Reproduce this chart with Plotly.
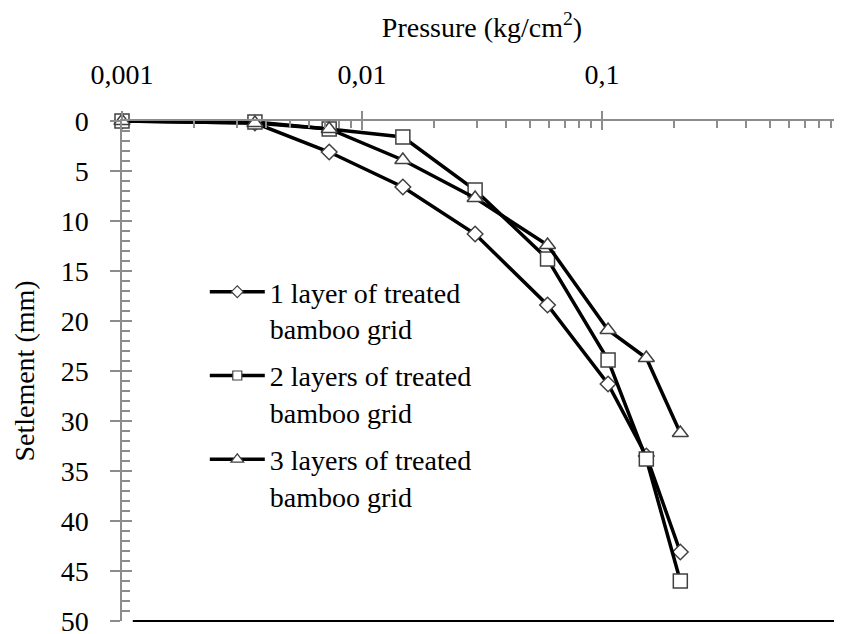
import plotly.graph_objects as go

# Pressure (kg/cm2) load steps
pressure = [0.001, 0.00358, 0.0073, 0.0148, 0.0296, 0.0593, 0.106, 0.153, 0.212]

# Settlement (mm)
settle_1 = [0.0, 0.2, 3.1, 6.6, 11.3, 18.4, 26.3, 33.5, 43.1]
settle_2 = [0.0, 0.1, 0.8, 1.6, 6.9, 13.8, 23.9, 33.8, 46.0]
settle_3 = [0.0, 0.2, 0.8, 3.9, 7.7, 12.4, 20.9, 23.7, 31.2]

names = ["1 layer of treated<br>bamboo grid",
         "2 layers of treated<br>bamboo grid",
         "3 layers of treated<br>bamboo grid"]
symbols = ["diamond", "square", "triangle-up"]
sizes = [12, 14, 14]

x_tickvals = [0.001, 0.01, 0.1, 1]
x_ticktext = ["0,001", "0,01", "0,1", "1"]
y_tickvals = [0, 5, 10, 15, 20, 25, 30, 35, 40, 45, 50]

FONT = "Liberation Serif"
AX = "#8c8c8c"

minor_x = [m * 10 ** e for e in (-3, -2, -1) for m in range(2, 10)]

fig = go.Figure()
for ys, nm, sym, sz in zip([settle_1, settle_2, settle_3], names, symbols, sizes):
    fig.add_trace(go.Scatter(
        x=pressure, y=ys, mode="lines+markers", name=nm, showlegend=False,
        line=dict(color="black", width=3.5),
        marker=dict(symbol=sym, size=sz, color="white",
                    line=dict(color="#404040", width=1.5)),
        cliponaxis=False))
# legend entries (smaller symbols, as in the original)
for i, (nm, sym, sz) in enumerate(zip(names, symbols, [9, 9, 11])):
    fig.add_trace(go.Scatter(
        x=[None], y=[None], mode="lines+markers", name=nm,
        legendgroup=f"g{i}",
        xaxis="x2", yaxis="y2",
        line=dict(color="black", width=3.5),
        marker=dict(symbol=sym, size=sz, color="white",
                    line=dict(color="#404040", width=1.2))))

common_x = dict(type="log", range=[-3, 0], side="top", showgrid=False,
                zeroline=False, automargin=False)
common_y = dict(range=[50, 0], showgrid=False, zeroline=False,
                automargin=False)

# the page body has an 8px margin: compensate so the plot lands where it should
fig.update_layout(
    width=842, height=634,
    margin=dict(l=114, r=8, t=113, b=21, autoexpand=False),
    paper_bgcolor="white", plot_bgcolor="white",
    font=dict(family=FONT, size=28, color="black"),
    xaxis=dict(**common_x, tickvals=x_tickvals, ticktext=x_ticktext,
               ticks="outside", ticklen=8, tickwidth=1.5, tickcolor=AX,
               showline=True, linecolor=AX, linewidth=1.5,
               ticklabelstandoff=16,
               tickfont=dict(family=FONT, size=28),
               title=dict(text="Pressure (kg/cm<sup>2</sup>)", standoff=38,
                          font=dict(family=FONT, size=28))),
    xaxis2=dict(**common_x, overlaying="x", anchor="y", tickvals=x_tickvals,
                showticklabels=False, ticks="inside", ticklen=9,
                tickwidth=1.5, tickcolor=AX, showline=False,
                minor=dict(tickvals=minor_x, ticks="inside", ticklen=7,
                           tickwidth=1.5, tickcolor=AX)),
    yaxis=dict(**common_y, tickvals=y_tickvals, ticks="outside", ticklen=10,
               tickwidth=1.5, tickcolor=AX, showline=True, linecolor=AX,
               linewidth=1.5, ticklabelstandoff=16,
               tickfont=dict(family=FONT, size=28),
               title=dict(text="Setlement (mm)", standoff=18,
                          font=dict(family=FONT, size=28))),
    yaxis2=dict(**common_y, overlaying="y", anchor="x", tickvals=y_tickvals,
                showticklabels=False, ticks="inside", ticklen=10,
                tickwidth=1.5, tickcolor=AX, showline=False,
                minor=dict(dtick=1, ticks="inside", ticklen=8,
                           tickwidth=1.5, tickcolor=AX)),
    legend=dict(x=0.115, y=0.708, xanchor="left", yanchor="top",
                bgcolor="rgba(0,0,0,0)", valign="top", itemwidth=55,
                traceorder="grouped", tracegroupgap=8,
                font=dict(family=FONT, size=28)),
    shapes=[dict(type="line", xref="x domain", yref="y domain",
                 x0=0.015, x1=1, y0=0, y1=0,
                 line=dict(color="black", width=2))],
)

fig.write_html("out.html")
